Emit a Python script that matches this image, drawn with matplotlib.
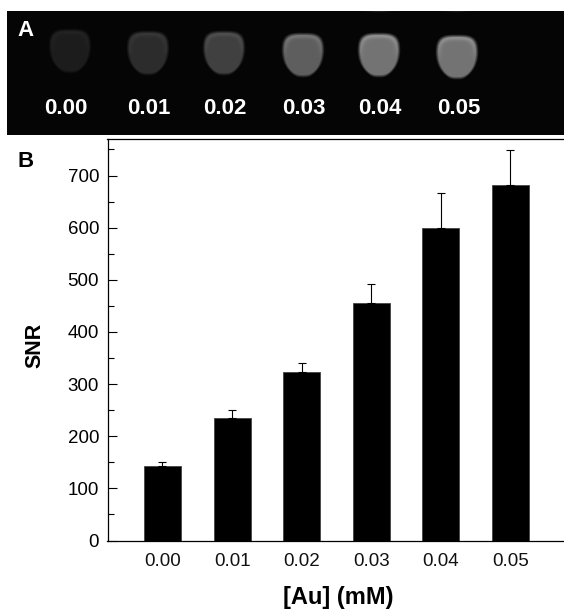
import numpy as np
import matplotlib
matplotlib.use("Agg")
import matplotlib.pyplot as plt

plt.rcParams['font.family'] = ['Liberation Sans', 'DejaVu Sans']

# Au concentration (mM)
conc_labels = ['0.00', '0.01', '0.02', '0.03', '0.04', '0.05']
snr = [143, 235, 323, 456, 600, 682]
snr_err = [8, 15, 18, 35, 66, 66]

# phantom image brightness and position in panel A
tongue_level = [0.10, 0.17, 0.25, 0.38, 0.47, 0.47]
tongue_x = [70, 148, 224, 303, 379, 457]
tongue_y = [51, 53, 53, 55, 55, 57]
label_x = [66, 149, 225, 304, 380, 459]

W, H = 564, 610
fig = plt.figure(figsize=(W / 100, H / 100), dpi=100)


def px_axes(left, top, right, bottom):
    return fig.add_axes([left / W, 1 - bottom / H, (right - left) / W, (bottom - top) / H])


# panel A: MR image, black strip with soft tongue shapes
ax_a = px_axes(7, 11, 564, 135)
yy, xx = np.mgrid[11:135, 7:564] + 0.5
img = np.full(xx.shape, 0.02)
for cx, cy, lev in zip(tongue_x, tongue_y, tongue_level):
    dy = (yy - cy) / 22
    # widest a bit above the middle, tapering towards the tip
    half_w = 21 * (1 - 0.30 * np.clip(dy + 0.25, 0, 1.4) ** 2)
    half_w = np.maximum(half_w, 1)
    r = (np.abs((xx - cx) / half_w) ** 3.4 + np.abs(dy) ** 3.6) ** (1 / 3.4)
    mask = np.clip((1.04 - r) / 0.16, 0, 1)
    rim = np.exp(-((r - 0.86) / 0.12) ** 2) * np.clip(-dy + 0.2, 0, 1)
    img += mask * lev * (0.92 + 0.22 * rim)
# bits of the next row just showing at the top edge
for cx, lev in zip(tongue_x[-2:], [0.25, 0.2]):
    img += lev * np.exp(-(((xx - cx) / 10) ** 2 + ((yy - 10) / 1.5) ** 2))
ax_a.imshow(img, cmap='gray', vmin=0, vmax=1, aspect='auto',
            extent=(7, 564, 135, 11), interpolation='bilinear')
ax_a.axis('off')
for lx, lab in zip(label_x, conc_labels):
    ax_a.text(lx, 108, lab, color='white', fontsize=16, fontweight='bold',
              ha='center', va='center')
ax_a.text(25, 31, 'A', color='white', fontsize=16, fontweight='bold', ha='center', va='center')

# panel B: bar chart
ax = px_axes(107.5, 139, 564, 540.5)
x = np.arange(len(snr))
ax.bar(x, snr, width=0.53, color='black', edgecolor='#444444', linewidth=0.6)
ax.errorbar(x, snr, yerr=[np.zeros(len(snr)), snr_err], fmt='none', ecolor='black',
            elinewidth=0.8, capsize=2.8, capthick=0.8)
ax.set_xlim(-0.79, 5.77)
ax.set_ylim(0, 770)
ax.set_xticks(x)
ax.set_xticklabels(conc_labels)
ax.set_yticks(np.arange(0, 701, 100))
ax.set_yticks(np.arange(50, 751, 100), minor=True)
ax.tick_params(axis='x', length=0, labelsize=13.5, pad=9, colors='#111111')
ax.tick_params(axis='y', which='major', length=6.5, width=0.8, direction='in', labelsize=13.5, pad=6)
ax.tick_params(axis='y', which='minor', length=4, width=0.8, direction='in')
ax.spines['right'].set_visible(False)
for s in ['left', 'top', 'bottom']:
    ax.spines[s].set_linewidth(0.9)
ax.set_xlabel('[Au] (mM)', fontsize=17, fontweight='bold')
ax.xaxis.set_label_coords(0.506, -0.113)
ax.set_ylabel('SNR', fontsize=15.5, fontweight='bold')
ax.yaxis.set_label_coords(-0.137, 0.486)
fig.text(26 / W, 1 - 161 / H, 'B', fontsize=16, fontweight='bold', ha='center', va='center')

fig.savefig('out.png', dpi=100)
